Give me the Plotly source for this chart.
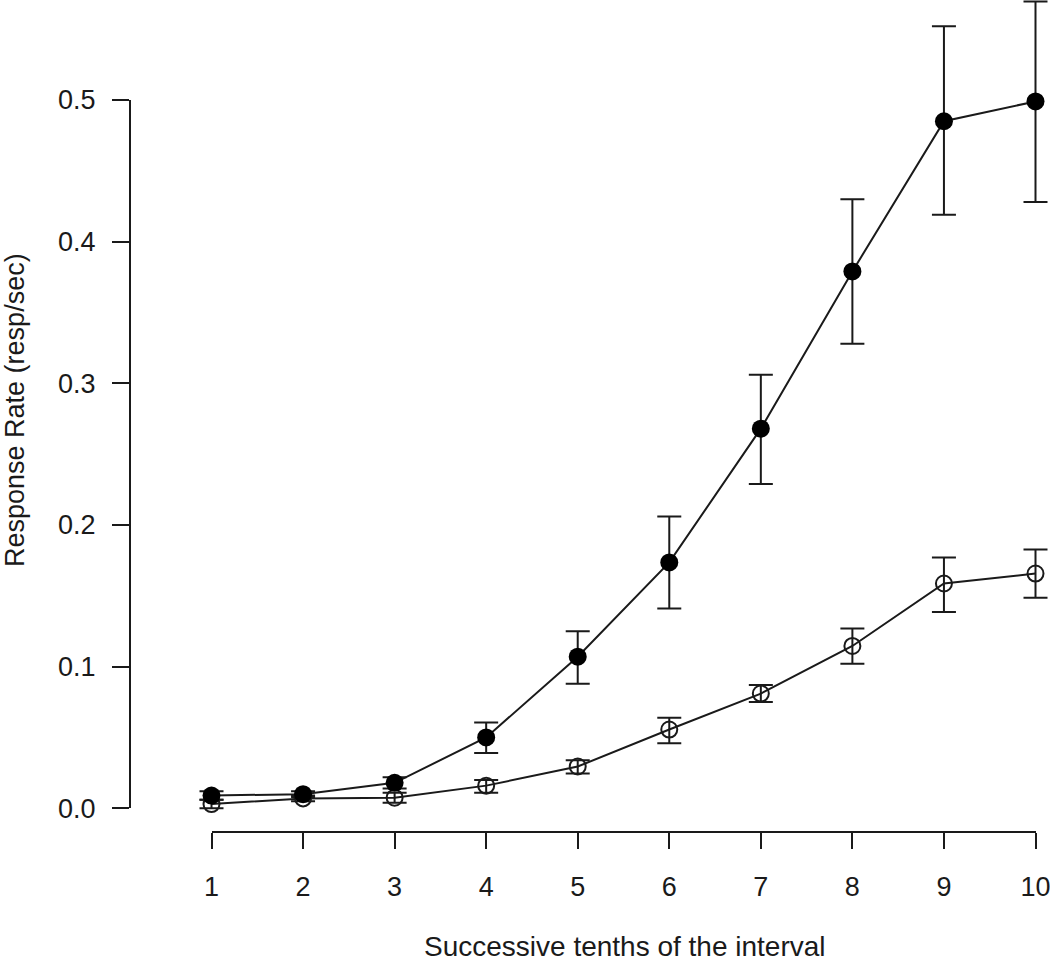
import plotly.graph_objects as go

# ---- data ----
tenths = [1, 2, 3, 4, 5, 6, 7, 8, 9, 10]

filled_rate = [0.009, 0.010, 0.018, 0.050, 0.107, 0.1736, 0.268, 0.379, 0.485, 0.499]
filled_upper = [0.012, 0.012, 0.022, 0.0605, 0.125, 0.206, 0.306, 0.430, 0.552, 0.5695]
filled_lower = [0.006, 0.008, 0.014, 0.039, 0.088, 0.141, 0.229, 0.328, 0.419, 0.428]

open_rate = [0.003, 0.007, 0.0075, 0.016, 0.0295, 0.0556, 0.081, 0.1146, 0.1587, 0.1657]
open_upper = [0.006, 0.009, 0.011, 0.020, 0.034, 0.064, 0.087, 0.127, 0.177, 0.1827]
open_lower = [0.000, 0.005, 0.004, 0.011, 0.0245, 0.046, 0.075, 0.102, 0.1386, 0.1487]

y_ticks = [0.0, 0.1, 0.2, 0.3, 0.4, 0.5]
x_title = "Successive tenths of the interval"
y_title = "Response Rate (resp/sec)"

# ---- layout geometry (pixels) ----
W, H = 1050, 962
px_x1, px_x10 = 211.5, 1035.5
px_y0, px_y05 = 808.3, 100.0
ux = (px_x10 - px_x1) / 9.0
uy = (px_y0 - px_y05) / 0.5
x_range = [1 - px_x1 / ux, 10 + (W - px_x10) / ux]
y_range = [-(H - px_y0) / uy, 0.5 + px_y05 / uy]

INK = "#1a1a1a"
FONT = "Liberation Sans, Arial, sans-serif"
FS = 27
LW = 2


def err(vals, up, lo):
    return dict(type="data", symmetric=False,
                array=[u - v for u, v in zip(up, vals)],
                arrayminus=[v - l for v, l in zip(vals, lo)],
                color=INK, thickness=LW, width=12)


fig = go.Figure()
fig.add_trace(go.Scatter(
    x=tenths, y=open_rate, mode="lines+markers",
    line=dict(color=INK, width=LW),
    marker=dict(symbol="circle-open", size=16, color=INK, line=dict(width=LW)),
    error_y=err(open_rate, open_upper, open_lower),
    showlegend=False, cliponaxis=False, hoverinfo="skip"))
fig.add_trace(go.Scatter(
    x=tenths, y=filled_rate, mode="lines+markers",
    line=dict(color=INK, width=LW),
    marker=dict(symbol="circle", size=18, color="black"),
    error_y=err(filled_rate, filled_upper, filled_lower),
    showlegend=False, cliponaxis=False, hoverinfo="skip"))
# carrier for the R-style detached axes
fig.add_trace(go.Scatter(x=[1, 10], y=[0, 0.5], xaxis="x2", yaxis="y2",
                         mode="markers", marker=dict(opacity=0),
                         showlegend=False, hoverinfo="skip"))

fig.update_layout(
    template="none",
    width=W, height=H,
    margin=dict(l=0, r=0, t=0, b=0, pad=0),
    paper_bgcolor="white", plot_bgcolor="rgba(0,0,0,0)",
    font=dict(family=FONT, size=FS, color=INK),
    xaxis=dict(range=x_range, visible=False, domain=[0, 1], fixedrange=True,
               automargin=False),
    yaxis=dict(range=y_range, visible=False, domain=[0, 1], fixedrange=True,
               automargin=False),
    xaxis2=dict(range=[1, 10], domain=[px_x1 / W, px_x10 / W],
                anchor="free", position=(H - 832) / H, automargin=False,
                tickvals=tenths, ticks="outside", ticklen=16, tickwidth=LW,
                tickcolor=INK, showline=True, linewidth=LW, linecolor=INK,
                showgrid=False, zeroline=False, ticklabelstandoff=15,
                ticklabeloverflow="allow", fixedrange=True,
                tickfont=dict(size=FS)),
    yaxis2=dict(range=[0, 0.5], domain=[(H - px_y0) / H, (H - px_y05) / H],
                anchor="free", position=130 / W, automargin=False,
                tickvals=y_ticks, tickformat=".1f", ticks="outside", ticklen=17,
                tickwidth=LW, tickcolor=INK, showline=True, linewidth=LW,
                linecolor=INK, showgrid=False, zeroline=False,
                ticklabelstandoff=11, ticklabeloverflow="allow", fixedrange=True,
                tickfont=dict(size=FS)),
    annotations=[
        dict(text=x_title, xref="paper", yref="paper",
             x=625 / W, y=(H - 946) / H, showarrow=False,
             xanchor="center", yanchor="middle", font=dict(size=FS + 1)),
        dict(text=y_title, xref="paper", yref="paper",
             x=15 / W, y=(H - 410) / H, showarrow=False, textangle=-90,
             xanchor="center", yanchor="middle", font=dict(size=FS)),
    ],
)

fig.write_html("out.html",
               config={"displayModeBar": False},
               post_script="document.body.style.margin='0';"
                           "document.body.style.overflow='hidden';")
